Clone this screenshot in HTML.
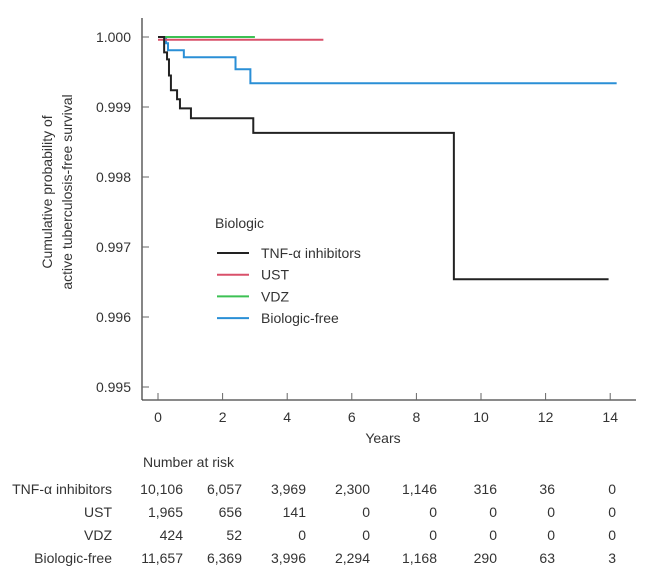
<!DOCTYPE html>
<html><head><meta charset="utf-8"><style>
html,body{margin:0;padding:0;background:#fff;}
svg text{font-family:"Liberation Sans",sans-serif;fill:#333;}
</style></head><body>
<svg id="chart" width="650" height="583" viewBox="0 0 650 583" xmlns="http://www.w3.org/2000/svg">
<g id="axes"></g>
<g id="series"></g>
<g id="legend"></g>
<g id="table"></g>
</svg>
<script>
const xTicks = [0,2,4,6,8,10,12,14];
const yTicks = [0.995,0.996,0.997,0.998,0.999,1.000];
const seriesNames = ["TNF-α inhibitors","UST","VDZ","Biologic-free"];
const seriesColors = ["#222222","#d9506a","#3cc153","#2a8fd6"];
const tnfT = [0,0.19,0.28,0.34,0.40,0.59,0.68,1.02,2.95,9.16,13.95];
const tnfS = [1.0,0.99978,0.99968,0.99945,0.99924,0.99911,0.99898,0.99884,0.99863,0.99654,0.99654];
const ustT = [0,5.12];
const ustS = [0.99996,0.99996];
const vdzT = [0,3.0];
const vdzS = [1.0,1.0];
const bfT = [0,0.25,0.31,0.8,2.4,2.86,14.2];
const bfS = [1.0,0.99991,0.99981,0.99971,0.99954,0.99934,0.99934];
const riskTNF = ["10,106","6,057","3,969","2,300","1,146","316","36","0"];
const riskUST = ["1,965","656","141","0","0","0","0","0"];
const riskVDZ = ["424","52","0","0","0","0","0","0"];
const riskBF = ["11,657","6,369","3,996","2,294","1,168","290","63","3"];

const NS="http://www.w3.org/2000/svg";
function X(t){return 158+t*32.3;}
function Y(v){return 387-(v-0.995)/0.001*70;}
function mk(tag,attrs,parent,txt){const e=document.createElementNS(NS,tag);for(const k in attrs)e.setAttribute(k,attrs[k]);if(txt!==undefined)e.textContent=txt;parent.appendChild(e);return e;}
const axes=document.getElementById('axes');
let e;
e=mk('line',{x1:142,y1:18,x2:142,y2:400,stroke:'#444','stroke-width':1.3},axes);


e=mk('line',{x1:142,y1:400,x2:636,y2:400,stroke:'#444','stroke-width':1.3},axes);


yTicks.forEach(v=>{
  mk('line',{x1:142,y1:Y(v),x2:149,y2:Y(v),stroke:'#666'},axes);
  e=mk('text',{x:131,y:Y(v)+5,'text-anchor':'end','font-size':14},axes,v.toFixed(3));
  
  
});
xTicks.forEach(t=>{
  mk('line',{x1:X(t),y1:393,x2:X(t),y2:400,stroke:'#666'},axes);
  e=mk('text',{x:X(t),y:422,'text-anchor':'middle','font-size':14},axes,String(t));
  
  
});
e=mk('text',{x:383,y:443,'text-anchor':'middle','font-size':14},axes,'Years');


e=mk('text',{transform:'translate(52,192) rotate(-90)','text-anchor':'middle','font-size':14},axes,'Cumulative probability of');


e=mk('text',{transform:'translate(72,192) rotate(-90)','text-anchor':'middle','font-size':14},axes,'active tuberculosis-free survival');



const ser=document.getElementById('series');
function step(T,S){let d='M'+X(T[0])+','+Y(S[0]);for(let i=1;i<T.length;i++){d+=' H'+X(T[i])+' V'+Y(S[i]);}return d;}
const all=[[tnfT,tnfS],[ustT,ustS],[vdzT,vdzS],[bfT,bfS]];
const order=[3,1,2,0];
const snames=['tnf-curve','ust-curve','vdz-curve','biologic-free-curve'];
order.forEach(i=>{
  e=mk('path',{d:step(all[i][0],all[i][1]),fill:'none',stroke:seriesColors[i],'stroke-width':2},ser);
  
  
});

const lg=document.getElementById('legend');
e=mk('text',{x:215,y:228,'font-size':14},lg,'Biologic');


seriesNames.forEach((n,i)=>{
  const y=253+i*21.7;
  mk('line',{x1:217,y1:y,x2:249,y2:y,stroke:seriesColors[i],'stroke-width':2},lg);
  e=mk('text',{x:261,y:y+5,'font-size':14},lg,n);
  
  
});

const tb=document.getElementById('table');
e=mk('text',{x:143,y:467,'font-size':14},tb,'Number at risk');


const rows=[riskTNF,riskUST,riskVDZ,riskBF];
const colX=[183,242,306,370,437,497,555,616];
rows.forEach((r,i)=>{
  const y=494+i*23;
  e=mk('text',{x:112,y:y,'text-anchor':'end','font-size':14},tb,seriesNames[i]);
  
  
  r.forEach((v,j)=>{
    e=mk('text',{x:colX[j],y:y,'text-anchor':'end','font-size':14},tb,v);
    
    
  });
});
</script>
</body></html>
